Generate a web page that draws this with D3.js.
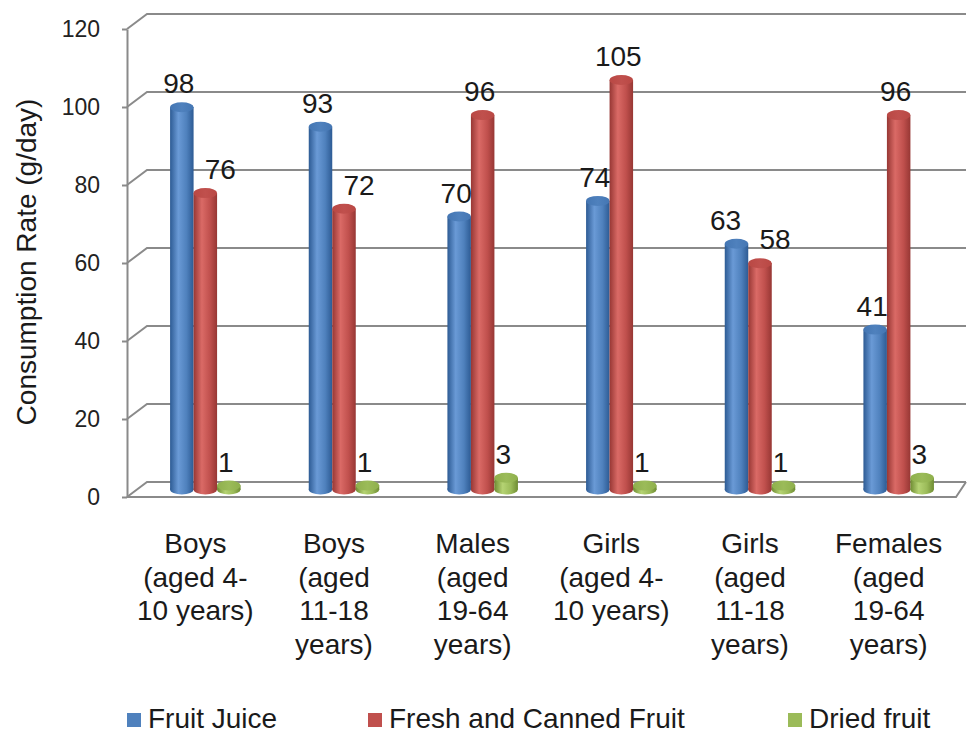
<!DOCTYPE html>
<html>
<head>
<meta charset="utf-8">
<script src="https://cdn.jsdelivr.net/npm/d3@7"></script>
<style>
  body { margin: 0; background: #fff; }
  svg { display: block; font-family: "Liberation Sans", Arial, sans-serif; }
</style>
</head>
<body>
<svg width="969" height="733"></svg>
<script>
const categories = [
  "Boys\n(aged 4-\n10 years)",
  "Boys\n(aged\n11-18\nyears)",
  "Males\n(aged\n19-64\nyears)",
  "Girls\n(aged 4-\n10 years)",
  "Girls\n(aged\n11-18\nyears)",
  "Females\n(aged\n19-64\nyears)"
]
const seriesNames = ["Fruit Juice", "Fresh and Canned Fruit", "Dried fruit"]
const fruitJuice = [98, 93, 70, 74, 63, 41]
const freshCanned = [76, 72, 96, 105, 58, 96]
const driedFruit = [1, 1, 3, 1, 1, 3]
const yTicks = [0, 20, 40, 60, 80, 100, 120]

const values = [fruitJuice, freshCanned, driedFruit]
const colors = [
  {edge: "#2d5b94", mid: "#4f81bd", hi: "#6a9ad6", top: "#4476b3", key: "#4f81bd"},
  {edge: "#973734", mid: "#c0504d", hi: "#da6a66", top: "#b94844", key: "#c0504d"},
  {edge: "#6e8c32", mid: "#9bbb59", hi: "#b5d373", top: "#8fb04c", key: "#9bbb59"}
]

// 3d frame: front plane, wall pushed back by depth
const frontLeft = 127
const depthX = 20, depthY = -15
const backRight = 966, frontRight = 956

const svg = d3.select("svg")

const yFront = d3.scaleLinear().domain([0, 120]).range([497, 29])
const yMid = v => yFront(v) + depthY / 2

const x = d3.scaleBand().domain(categories).range([136, 968])
const barW = 23.5
const inner = d3.scaleBand().domain(seriesNames).range([-barW * 1.5, barW * 1.5])

// gradients for cylinders
const defs = svg.append("defs")
colors.forEach((c, i) => {
  const g = defs.append("linearGradient").attr("id", "cyl" + i)
    .attr("x1", "0%").attr("x2", "100%").attr("y1", "0%").attr("y2", "0%")
  g.append("stop").attr("offset", "0%").attr("stop-color", c.edge)
  g.append("stop").attr("offset", "35%").attr("stop-color", c.hi)
  g.append("stop").attr("offset", "70%").attr("stop-color", c.mid)
  g.append("stop").attr("offset", "100%").attr("stop-color", c.edge)
  const t = defs.append("linearGradient").attr("id", "top" + i)
    .attr("x1", "0%").attr("x2", "100%")
  t.append("stop").attr("offset", "0%").attr("stop-color", c.top)
  t.append("stop").attr("offset", "50%").attr("stop-color", c.mid)
  t.append("stop").attr("offset", "100%").attr("stop-color", c.top)
})

// walls and gridlines
const grid = svg.append("g").attr("fill", "none").attr("stroke", "#8a8a8a").attr("stroke-width", 2)
yTicks.forEach(v => {
  const yf = yFront(v)
  grid.append("path").attr("d",
    `M${frontLeft},${yf}L${frontLeft + depthX},${yf + depthY}L${backRight},${yf + depthY}`)
})
grid.append("path").attr("d",
  `M${frontLeft},${yFront(0)}L${frontRight},${yFront(0)}L${backRight},${yFront(0) + depthY}`)

// y axis
const yAxis = svg.append("g")
  .attr("transform", `translate(${frontLeft},0)`)
  .call(d3.axisLeft(yFront).tickValues(yTicks).tickSize(5).tickPadding(22).tickSizeOuter(0))
yAxis.select(".domain").attr("stroke", "#8a8a8a").attr("stroke-width", 2)
yAxis.selectAll(".tick line").attr("stroke", "#8a8a8a").attr("stroke-width", 2)
yAxis.selectAll(".tick text").attr("font-size", 23).attr("fill", "#222")
  .attr("font-family", "'Liberation Sans', Arial, sans-serif")

svg.append("text")
  .attr("transform", "translate(36,262) rotate(-90)")
  .attr("text-anchor", "middle")
  .attr("font-size", 28).attr("fill", "#1a1a1a")
  .text("Consumption Rate (g/day)")

// cylinders
const ry = 5
const bars = svg.append("g")
categories.forEach((cat, ci) => {
  seriesNames.forEach((s, si) => {
    const v = values[si][ci]
    const cx = x(cat) + x.bandwidth() / 2 + inner(s) + inner.bandwidth() / 2
    const yt = yMid(v), yb = yMid(0)
    const g = bars.append("g")
    g.append("ellipse").attr("cx", cx).attr("cy", yb).attr("rx", barW / 2).attr("ry", ry)
      .attr("fill", `url(#cyl${si})`)
    g.append("rect").attr("x", cx - barW / 2).attr("y", yt).attr("width", barW).attr("height", yb - yt)
      .attr("fill", `url(#cyl${si})`)
    g.append("ellipse").attr("cx", cx).attr("cy", yt).attr("rx", barW / 2).attr("ry", ry)
      .attr("fill", `url(#top${si})`)
  })
})

// data labels, nudged apart where juice and fruit labels would collide
const labels = svg.append("g").attr("font-size", 28).attr("fill", "#1a1a1a").attr("text-anchor", "middle")
categories.forEach((cat, ci) => {
  const gap = fruitJuice[ci] - freshCanned[ci]
  seriesNames.forEach((s, si) => {
    const v = values[si][ci]
    let dx = -3
    if (gap > 0 && gap < 25) {
      if (si == 1) dx = 15
      if (si == 0 && gap < 10) dx = -11
    }
    const cx = x(cat) + x.bandwidth() / 2 + inner(s) + inner.bandwidth() / 2
    labels.append("text").attr("x", cx + dx).attr("y", yMid(v) - 14).text(v)
  })
})

// category labels on the front edge
const catG = svg.append("g").attr("font-size", 28).attr("fill", "#1a1a1a").attr("text-anchor", "middle")
categories.forEach(cat => {
  const t = catG.append("text").attr("x", x(cat) + x.bandwidth() / 2 - depthX / 2).attr("y", 553)
  cat.split("\n").forEach((line, i) => {
    t.append("tspan").attr("x", x(cat) + x.bandwidth() / 2 - depthX / 2)
      .attr("y", 553 + i * 33.7).text(line)
  })
})

// legend
const legendX = [127, 368, 788]
const legend = svg.append("g")
seriesNames.forEach((s, i) => {
  legend.append("rect").attr("x", legendX[i]).attr("y", 713).attr("width", 14).attr("height", 14)
    .attr("fill", colors[i].key)
  legend.append("text").attr("x", legendX[i] + 21).attr("y", 728)
    .attr("font-size", 28).attr("fill", "#1a1a1a").text(s)
})
</script>
</body>
</html>
